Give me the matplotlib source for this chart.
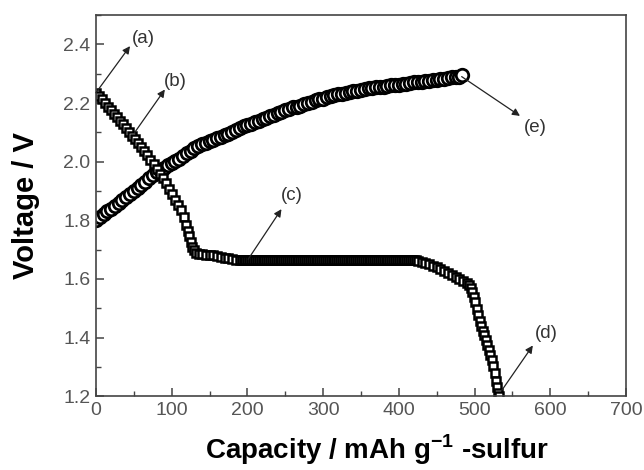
import matplotlib
matplotlib.use('Agg')
import matplotlib.pyplot as plt
from matplotlib.ticker import MultipleLocator

# discharge curve (open squares)
dis_cap = [0, 4, 8, 12, 16, 20, 24, 28, 32, 36, 40, 44, 48, 52, 56, 60, 64, 68, 72, 76,
           80, 84, 88, 92, 96, 100, 104, 108, 112, 116, 119, 121, 123, 125, 127, 129, 132,
           136, 140, 145, 150, 155, 160, 165, 170, 175, 180, 185, 190, 192.5, 195, 197.5,
           200, 202.5, 205, 207.5, 210, 212.5, 215, 217.5, 220, 222.5, 225, 227.5,
           230, 232.5, 235, 237.5, 240, 242.5, 245, 247.5, 250, 252.5, 255, 257.5,
           260, 262.5, 265, 267.5, 270, 272.5, 275, 277.5, 280, 282.5, 285, 287.5,
           290, 292.5, 295, 297.5, 300, 302.5, 305, 307.5, 310, 312.5, 315, 317.5,
           320, 322.5, 325, 327.5, 330, 332.5, 335, 337.5, 340, 342.5, 345, 347.5,
           350, 352.5, 355, 357.5, 360, 362.5, 365, 367.5, 370, 372.5, 375, 377.5,
           380, 382.5, 385, 387.5, 390, 392.5, 395, 397.5, 400, 402.5, 405, 407.5,
           410, 412.5, 415, 417.5, 420, 422.5,
           425, 430, 435, 440, 445, 450, 455, 460, 465, 470, 475, 480, 485, 490, 493,
           495, 497, 499, 501, 503, 505, 507, 509, 511, 513, 515, 517, 519, 521, 523,
           525, 527, 529, 530, 531, 532]
dis_volt = [2.235, 2.223, 2.212, 2.200, 2.188, 2.176, 2.164, 2.152, 2.140, 2.128, 2.115,
            2.102, 2.089, 2.076, 2.063, 2.049, 2.035, 2.021, 2.006, 1.991,
            1.975, 1.959, 1.943, 1.926, 1.908, 1.889, 1.870, 1.852, 1.834, 1.810, 1.785,
            1.765, 1.745, 1.727, 1.710, 1.698, 1.690,
            1.686, 1.684, 1.682, 1.681, 1.680, 1.678, 1.676, 1.673, 1.670, 1.668, 1.666,
            1.664, 1.664, 1.663, 1.663,
            1.663, 1.663, 1.663, 1.663, 1.663, 1.663, 1.663, 1.663, 1.663, 1.663, 1.663, 1.663,
            1.663, 1.663, 1.663, 1.663, 1.663, 1.663, 1.663, 1.663, 1.663, 1.663, 1.663, 1.663,
            1.663, 1.663, 1.663, 1.663, 1.663, 1.663, 1.663, 1.663, 1.663, 1.663, 1.663, 1.663,
            1.663, 1.663, 1.663, 1.663, 1.663, 1.663, 1.663, 1.663, 1.663, 1.663, 1.663, 1.663,
            1.663, 1.663, 1.663, 1.663, 1.663, 1.663, 1.663, 1.663, 1.663, 1.663, 1.663, 1.663,
            1.663, 1.663, 1.663, 1.663, 1.663, 1.663, 1.663, 1.663, 1.663, 1.663, 1.663, 1.663,
            1.663, 1.663, 1.663, 1.663, 1.663, 1.663, 1.663, 1.663, 1.663, 1.663, 1.663, 1.663,
            1.663, 1.663, 1.663, 1.663, 1.663, 1.663,
            1.662, 1.658, 1.654, 1.650, 1.645, 1.640, 1.634, 1.627, 1.620, 1.613, 1.606,
            1.600, 1.594, 1.587, 1.580,
            1.570, 1.556, 1.540, 1.520, 1.498, 1.478, 1.458, 1.440, 1.424, 1.408, 1.392,
            1.376, 1.358, 1.340, 1.322,
            1.304, 1.280, 1.253, 1.232, 1.212, 1.200]

# charge curve (open circles)
chg_cap = [0, 5, 10, 15, 20, 25, 30, 35, 40, 45, 50, 55, 60, 65, 70, 75, 80, 85, 90, 95,
           100, 105, 110, 115, 120, 125, 130, 135, 140, 145, 150, 155, 160, 165, 170, 175,
           180, 185, 190, 195, 200, 205, 210, 215, 220, 225, 230, 235, 240, 245, 250, 255,
           260, 265, 270, 275, 280, 285, 290, 295, 300, 305, 310, 315, 320, 325, 330, 335,
           340, 345, 350, 355, 360, 365, 370, 375, 380, 385, 390, 395, 400, 405, 410, 415,
           420, 425, 430, 435, 440, 445, 450, 455, 460, 465, 470, 475, 480, 483]
chg_volt = [1.800, 1.810, 1.820, 1.830, 1.840, 1.850, 1.860, 1.870, 1.880, 1.890, 1.900,
            1.910, 1.920, 1.932, 1.945, 1.955, 1.965, 1.972, 1.980, 1.988,
            1.995, 2.002, 2.010, 2.020, 2.030, 2.038, 2.045, 2.052, 2.060, 2.065, 2.070,
            2.075, 2.080, 2.085, 2.090, 2.095,
            2.100, 2.108, 2.115, 2.120, 2.125, 2.130, 2.135, 2.140, 2.145, 2.150, 2.155,
            2.160, 2.165, 2.170, 2.175, 2.180,
            2.185, 2.188, 2.190, 2.195, 2.200, 2.205, 2.210, 2.212, 2.215, 2.220, 2.225,
            2.228, 2.230, 2.232, 2.235, 2.238,
            2.240, 2.242, 2.245, 2.248, 2.250, 2.252, 2.253, 2.255, 2.256, 2.258, 2.260,
            2.262, 2.263, 2.265, 2.266, 2.268,
            2.270, 2.272, 2.273, 2.275, 2.276, 2.278, 2.280, 2.282, 2.283, 2.285, 2.287,
            2.288, 2.290, 2.295]

# annotation labels: (text, arrow start, arrow tip, text position)
notes = [
    ('(a)', (0, 2.235), (45, 2.394), (62, 2.42)),
    ('(b)', (51, 2.099), (91, 2.246), (105, 2.275)),
    ('(c)', (201, 1.667), (245, 1.838), (259, 1.884)),
    ('(d)', (536, 1.22), (577, 1.373), (595, 1.414)),
    ('(e)', (483, 2.29), (560, 2.156), (580, 2.116)),
]

fig = plt.figure(figsize=(6.44, 4.70), dpi=100)
ax = fig.add_axes([0.149, 0.157, 0.823, 0.811])

ax.plot(chg_cap, chg_volt, 'o', ms=9, mfc='white', mec='black', mew=2.0)
ax.plot(dis_cap, dis_volt, 's', ms=5.5, mfc='white', mec='black', mew=1.8)

for txt, start, tip, pos in notes:
    ax.annotate('', xy=tip, xytext=start,
                arrowprops=dict(arrowstyle='-|>', color='#222222', lw=0.9,
                                mutation_scale=11, shrinkA=0, shrinkB=0))
    ax.text(pos[0], pos[1], txt, ha='center', va='center', fontsize=13.5,
            color='#333333', family='Liberation Sans')

ax.set_xlim(0, 700)
ax.set_ylim(1.2, 2.5)
ax.xaxis.set_major_locator(MultipleLocator(100))
ax.xaxis.set_minor_locator(MultipleLocator(50))
ax.yaxis.set_minor_locator(MultipleLocator(0.1))
ax.set_yticks([1.2, 1.4, 1.6, 1.8, 2.0, 2.2, 2.4])
ax.tick_params(which='both', direction='in', colors='#444444', top=False, right=False)
ax.tick_params(which='major', length=6, width=1.1, labelsize=14, pad=4)
ax.tick_params(which='minor', length=3.5, width=1.0)
for lab in ax.get_xticklabels() + ax.get_yticklabels():
    lab.set_family('Liberation Sans')
    lab.set_color('#555555')
for sp in ax.spines.values():
    sp.set_color('#444444')
    sp.set_linewidth(1.2)

ax.set_xlabel(r'Capacity / mAh g$^{\mathregular{-1}}$ -sulfur', fontsize=20,
              fontweight='bold', family='Liberation Sans', labelpad=8)
ax.xaxis.set_label_coords(0.53, -0.095)
ax.set_ylabel('Voltage / V', fontsize=21, fontweight='bold', family='Liberation Sans',
              labelpad=17)

fig.savefig('out.png', dpi=100)
